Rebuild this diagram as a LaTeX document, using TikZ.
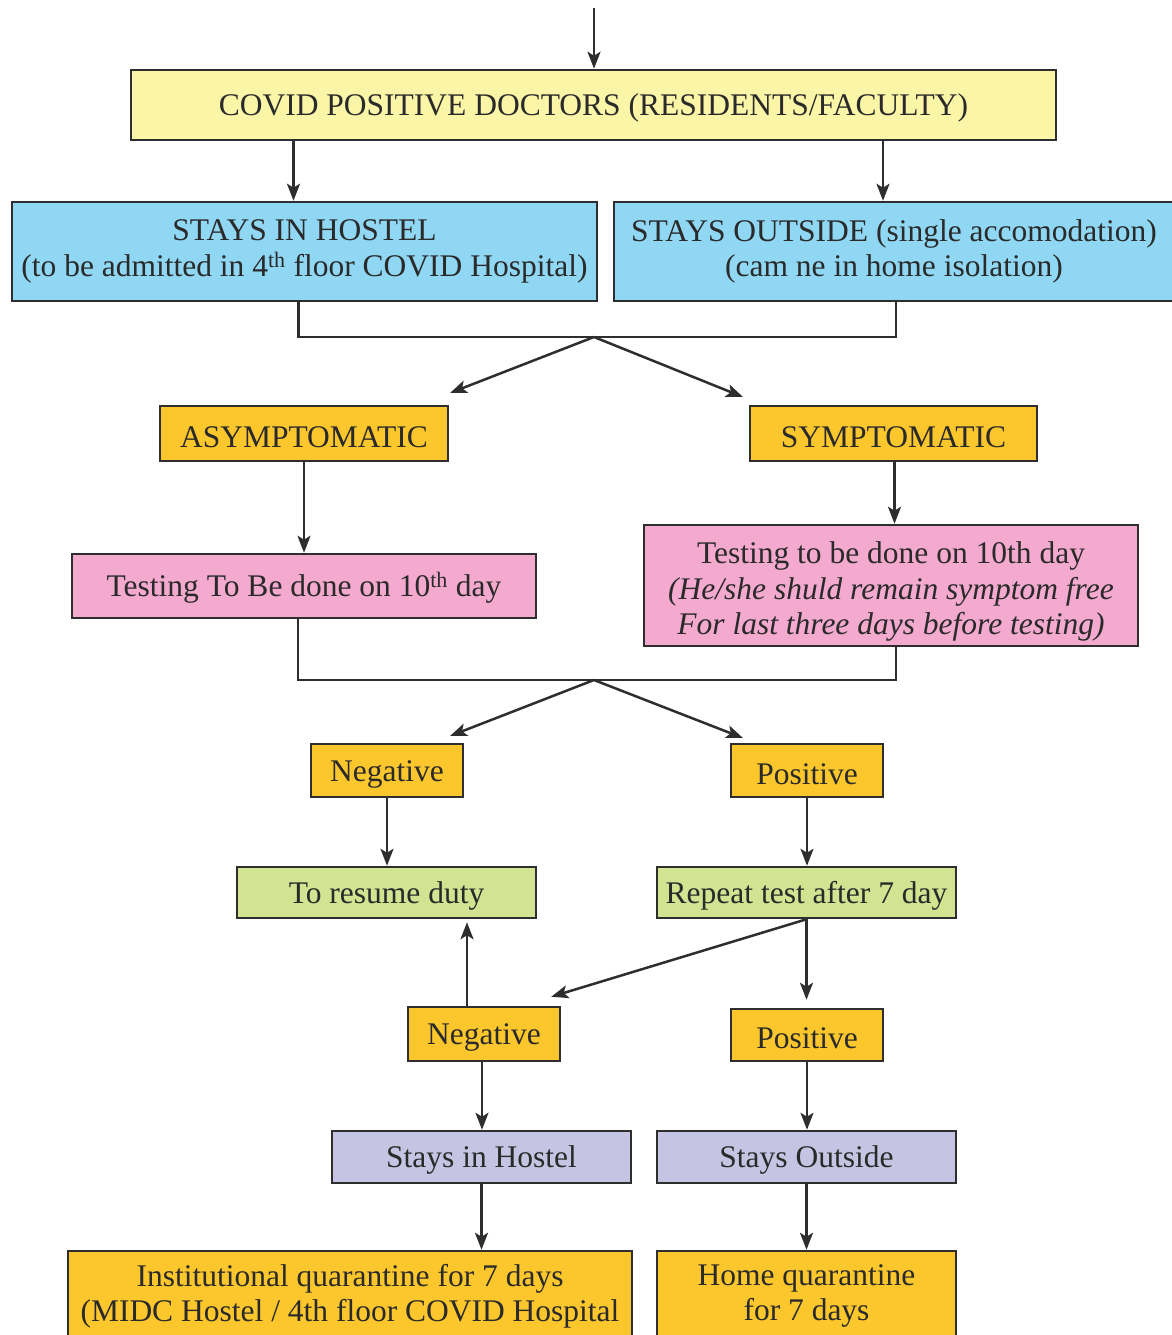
\documentclass[tikz,border=0pt]{standalone}
\usepackage{fontspec}
\setmainfont{Liberation Serif}
\usetikzlibrary{arrows.meta,calc}
\definecolor{cYel}{HTML}{FBF5A8}
\definecolor{cBlue}{HTML}{8FD7F3}
\definecolor{cOra}{HTML}{FCC72C}
\definecolor{cPink}{HTML}{F4A9CF}
\definecolor{cGreen}{HTML}{D2E392}
\definecolor{cLav}{HTML}{C5C5E3}
\definecolor{cLine}{HTML}{2E2E2E}
\definecolor{cText}{HTML}{2A2A2A}
\begin{document}
\begin{tikzpicture}[x=1pt,y=-1pt,
  font=\fontsize{31.5}{35.5}\selectfont,
  box/.style={draw=cLine, line width=2.5pt, inner sep=0pt, align=center, text=cText,
    execute at begin node={\rule{0pt}{28pt}}},
  arr/.style={draw=cLine, line width=2.5pt, -{Stealth[length=17pt,width=13pt,inset=4pt]}},
  ln/.style={draw=cLine, line width=2.5pt}]
\useasboundingbox (0,0) rectangle (1171,1335);

% nodes
\node[box, fill=cYel, minimum width=925pt, minimum height=70pt] (covid) at (593.5,105) {COVID POSITIVE DOCTORS (RESIDENTS/FACULTY)};
\node[box, fill=cBlue, minimum width=585pt, minimum height=99pt] (hostel) at (304.5,251.5) {STAYS IN HOSTEL\\(to be admitted in 4\textsuperscript{th} floor COVID Hospital)};
\node[box, fill=cBlue, minimum width=560pt, minimum height=99pt] (outside) at (894,251.5) {STAYS OUTSIDE (single accomodation)\\(cam ne in home isolation)};
\node[box, fill=cOra, minimum width=288pt, minimum height=55pt] (asym) at (304,433.5) {ASYMPTOMATIC};
\node[box, fill=cOra, minimum width=287pt, minimum height=55pt] (sym) at (893.5,433.5) {SYMPTOMATIC};
\node[box, fill=cPink, minimum width=464pt, minimum height=64pt] (testL) at (304,586) {Testing To Be done on 10\textsuperscript{th} day};
\node[box, fill=cPink, minimum width=494pt, minimum height=121pt] (testR) at (891,585.5) {\rule{0pt}{34pt}Testing to be done on 10th day\\\textit{(He/she shuld remain symptom free}\\\textit{For last three days before testing)}};
\node[box, fill=cOra, minimum width=152pt, minimum height=53pt] (neg1) at (387,770.5) {Negative};
\node[box, fill=cOra, minimum width=152pt, minimum height=53pt] (pos1) at (807,770.5) {Positive};
\node[box, fill=cGreen, minimum width=299pt, minimum height=51pt] (resume) at (386.5,892.5) {To resume duty};
\node[box, fill=cGreen, minimum width=299pt, minimum height=51pt] (repeat) at (806.5,892.5) {Repeat test after 7 day};
\node[box, fill=cOra, minimum width=152pt, minimum height=54pt] (neg2) at (484,1034) {Negative};
\node[box, fill=cOra, minimum width=152pt, minimum height=52pt] (pos2) at (807,1035) {Positive};
\node[box, fill=cLav, minimum width=299pt, minimum height=52pt] (hostel2) at (481.5,1157) {Stays in Hostel};
\node[box, fill=cLav, minimum width=299pt, minimum height=52pt] (outside2) at (806.5,1157) {Stays Outside};
\node[box, fill=cOra, minimum width=564pt, minimum height=90pt] (inst) at (350,1296) {Institutional quarantine for 7 days\\(MIDC Hostel / 4th floor COVID Hospital};
\node[box, fill=cOra, minimum width=299pt, minimum height=90pt] (home) at (806.5,1296) {Home quarantine\\for 7 days};

% helper coordinates
\coordinate (start) at (594,8);
\coordinate (j1) at (594,337);
\coordinate (a1) at (450,393);
\coordinate (a2) at (743,397);
\coordinate (j2) at (594,680);
\coordinate (b1) at (450,736);
\coordinate (b2) at (743,738);

% connectors
\draw[arr] (start) -- (covid.north -| start);
\draw[arr] ([xshift=-11pt]hostel.north |- covid.south) -- ([xshift=-11pt]hostel.north);
\draw[arr] ([xshift=-11pt]outside.north |- covid.south) -- ([xshift=-11pt]outside.north);
\draw[ln] ([xshift=-6pt]hostel.south) |- (j1) -| ([xshift=2pt]outside.south);
\draw[arr] (j1) -- (a1);
\draw[arr] (j1) -- (a2);
\draw[arr] (asym.south) -- (asym.south |- testL.north);
\draw[arr] ([xshift=1pt]sym.south) -- ([xshift=1pt]sym.south |- testR.north);
\draw[ln] ([xshift=-6pt]testL.south) |- (j2) -| ([xshift=5pt]testR.south);
\draw[arr] (j2) -- (b1);
\draw[arr] (j2) -- (b2);
\draw[arr] (neg1.south) -- (neg1.south |- resume.north);
\draw[arr] (pos1.south) -- (pos1.south |- repeat.north);
\draw[arr] (repeat.south) -- ([yshift=8pt]repeat.south |- pos2.north);
\draw[arr] (repeat.south) -- ([xshift=-10pt,yshift=9pt]neg2.north east);
\draw[arr] ([xshift=-17pt]neg2.north) -- ([xshift=-17pt,yshift=-3pt]neg2.north |- resume.south);
\draw[arr] ([xshift=-2pt]neg2.south) -- ([xshift=-2pt]neg2.south |- hostel2.north);
\draw[arr] (pos2.south) -- (pos2.south |- outside2.north);
\draw[arr] (hostel2.south) -- (hostel2.south |- inst.north);
\draw[arr] (outside2.south) -- (outside2.south |- home.north);
\end{tikzpicture}
\end{document}
